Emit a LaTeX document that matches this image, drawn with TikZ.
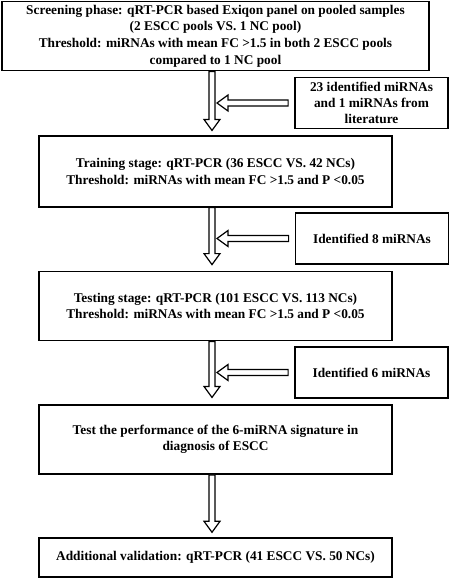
\documentclass[tikz,border=0pt]{standalone}
\usepackage{fontspec}
\setmainfont{Liberation Serif}
\usetikzlibrary{calc}

\begin{document}
\begin{tikzpicture}[x=0.75pt, y=-0.75pt,
    stage/.style={draw, line width=1.1pt, align=center, font=\fontsize{10}{12.4}\selectfont\bfseries, minimum width=264.75pt, minimum height=52pt, inner sep=0pt},
    found/.style={draw, line width=1.1pt, align=center, font=\fontsize{10}{12}\selectfont\bfseries, minimum width=115pt, minimum height=38.5pt, inner sep=0pt},
    hollow/.style={draw, line width=0.9pt, fill=white,
        to path={let \p1=(\tikztostart), \p2=(\tikztotarget), \n1={atan2(\y2-\y1,\x2-\x1)} in
            ($(\p1)+({\n1+90}:2.25pt)$) -- ($(\p2)+({\n1}:-8.25pt)+({\n1+90}:2.25pt)$)
            -- ($(\p2)+({\n1}:-8.25pt)+({\n1+90}:6pt)$) -- (\p2)
            -- ($(\p2)+({\n1}:-8.25pt)+({\n1-90}:6pt)$) -- ($(\p2)+({\n1}:-8.25pt)+({\n1-90}:2.25pt)$)
            -- ($(\p1)+({\n1-90}:2.25pt)$) -- cycle}}]
    \useasboundingbox (0,0) rectangle (450,579);

    % Screening phase
    \node[stage, minimum width=320.25pt] (screen) at (215.5,36) {Screening phase: qRT-PCR based Exiqon panel on pooled samples\\(2 ESCC pools VS. 1 NC pool)\\Threshold: miRNAs with mean FC >1.5 in both 2 ESCC pools\\compared to 1 NC pool};

    % Literature
    \node[found] (lit) at (371.5,103) {23 identified miRNAs\\and 1 miRNAs from\\literature};

    % Training stage
    \node[stage, minimum height=53pt] (train) at (215.5,171.5) {Training stage: qRT-PCR (36 ESCC VS. 42 NCs)\\Threshold: miRNAs with mean FC >1.5 and P <0.05};

    % Identified 8
    \node[found] (eight) at (372,238.5) {Identified 8 miRNAs};

    % Testing stage
    \node[stage] (test) at (215.5,306) {Testing stage: qRT-PCR (101 ESCC VS. 113 NCs)\\Threshold: miRNAs with mean FC >1.5 and P <0.05};

    % Identified 6
    \node[found] (six) at (371.5,372.5) {Identified 6 miRNAs};

    % Performance
    \node[stage] (perf) at (215.5,439.5) {Test the performance of the 6-miRNA signature in\\diagnosis of ESCC};

    % Additional validation
    \node[stage, minimum height=29.25pt] (extra) at (215.5,557.5) {Additional validation: qRT-PCR (41 ESCC VS. 50 NCs)};

    % Arrows
    \coordinate (ax) at (212,0);
    \coordinate (hx) at (217,0);
    \draw[hollow] (screen.south -| ax) to ([yshift=3.75pt]train.north -| ax);
    \draw[hollow] (train.south -| ax) to ([yshift=4.5pt]test.north -| ax);
    \draw[hollow] (test.south -| ax) to ([yshift=5pt]perf.north -| ax);
    \draw[hollow] (perf.south -| ax) to ([yshift=3.75pt]extra.north -| ax);

    \draw[hollow] ([xshift=-4.5pt]lit.west) to (lit.west -| hx);
    \draw[hollow] ([xshift=-4.5pt]eight.west) to (eight.west -| hx);
    \draw[hollow] ([xshift=-4.5pt]six.west) to (six.west -| hx);
\end{tikzpicture}
\end{document}
